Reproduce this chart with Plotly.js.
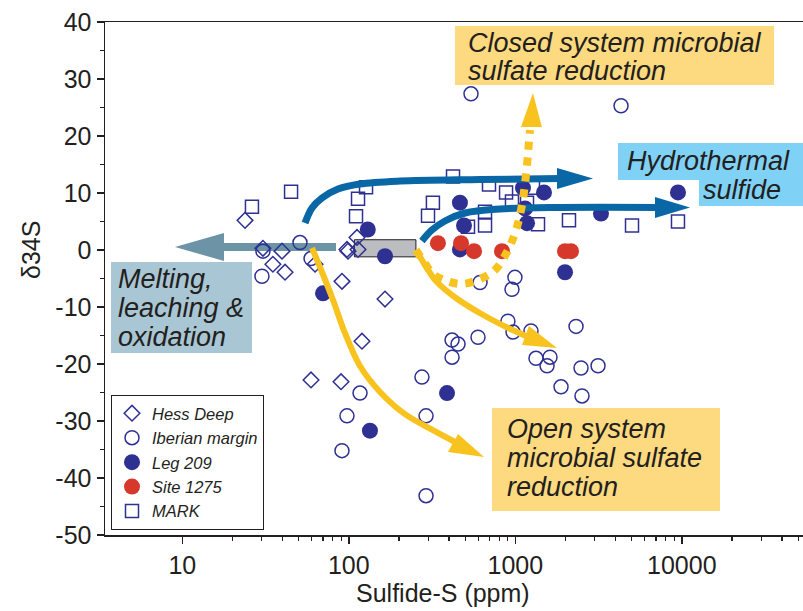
<!DOCTYPE html>
<html>
<head>
<meta charset="utf-8">
<script src="https://cdn.plot.ly/plotly-3.0.1.min.js"></script>
<style>
  html, body { margin: 0; padding: 0; background: #fff; }
  #chart { width: 803px; height: 611px; }
</style>
</head>
<body>
<div id="chart"></div>
<script>
// Sulfide-S content (ppm) and δ34S (‰) of sulfides, by locality
const hessDeepS     = [23.8, 30.5, 39.7, 35.0, 41.4, 62.7, 97.5, 91.0, 112, 98.9, 113.6, 165, 120, 59.3, 89.8];
const hessDeepD34S  = [5.2, 0.3, -0.2, -2.5, -3.9, -2.5, 0.1, -5.5, 2.2, -0.2, 0.1, -8.6, -16.0, -22.8, -23.1];

const iberianS      = [30.5, 30.1, 50.9, 59.3, 542, 4315, 614, 995, 955, 903, 969, 1242, 2316, 417, 453,
                       597, 417, 1331, 1616, 1551, 2481, 3139, 1882, 2515, 275, 116.8, 97.5, 291, 91, 291];
const iberianD34S   = [-0.2, -4.6, 1.3, -1.5, 27.4, 25.3, -5.7, -4.8, -6.9, -12.5, -14.4, -14.2, -13.4, -15.8, -16.5,
                       -15.3, -18.8, -19.0, -18.8, -20.3, -20.7, -20.3, -24.0, -25.6, -22.3, -25.1, -29.1, -29.1, -35.2, -43.1];

const leg209S       = [70, 130, 165, 465, 465, 492, 1112, 1487, 1144, 1176, 3271, 1989, 9485, 389, 134];
const leg209D34S    = [-7.6, 3.6, -1.1, 8.3, 0.1, 4.3, 10.9, 10.1, 7.3, 4.7, 6.4, -3.9, 10.1, -25.1, -31.7];

const site1275S     = [343, 472, 565, 832, 1989, 2160];
const site1275D34S  = [1.2, 1.2, -0.2, -0.2, -0.2, -0.2];

const markS         = [26.2, 45.0, 126.9, 113.6, 110.5, 422.6, 320, 299, 695, 880, 955, 658, 658, 520, 1176,
                       1277, 1369, 2101, 5023, 9485];
const markD34S      = [7.6, 10.2, 11.0, 9.0, 5.9, 12.9, 8.3, 6.0, 11.5, 10.1, 8.5, 6.7, 4.3, 4.1, 8.3,
                       10.9, 4.5, 5.2, 4.3, 5.0];

// Range of mantle sulfide (grey field)
const mantleS    = [108, 253];
const mantleD34S = [-1.2, 1.8];

// Axis ticks
const xTickVals = [10, 100, 1000, 10000];
const xTickText = ['10', '100', '1000', '10000'];
const yTickVals = [40, 30, 20, 10, 0, -10, -20, -30, -40, -50];
const yTickText = ['40', '30', '20', '10', '0', '-10', '-20', '-30', '-40', '-50'];

// Process arrows (ppm, ‰): shafts and heads
const hydroUpperX = [54.6, 60.1, 69.0, 86.1, 116.7, 203, 614, 1856];
const hydroUpperY = [4.74, 7.37, 9.12, 10.7, 11.58, 12.1, 12.37, 12.54];
const hydroUpperHeadX = [1780, 2929, 1780];
const hydroUpperHeadY = [14.39, 12.54, 10.70];

const hydroLowerX = [275, 316, 378, 499, 809, 1856, 7396];
const hydroLowerY = [1.58, 3.51, 5.09, 6.49, 7.19, 7.46, 7.46];
const hydroLowerHeadX = [6902, 11203, 6902];
const hydroLowerHeadY = [9.30, 7.46, 5.61];

const meltX = [83.8, 17.56];
const meltY = [0.53, 0.53];
const meltHeadX = [17.8, 9.04, 17.8];
const meltHeadY = [2.98, 0.53, -1.93];

const openLeftX = [60.1, 69.0, 80.4, 94.8, 116.7, 154, 217.5, 320, 434.5];
const openLeftY = [0.35, -3.86, -8.77, -14.56, -20.35, -24.9, -28.8, -31.6, -33.68];
const openLeftHeadX = [453, 649, 394];
const openLeftHeadY = [-32.28, -36.32, -35.44];

const openRightX = [253, 287, 334, 440, 658, 955, 1159];
const openRightY = [0, -2.63, -5.44, -8.42, -11.58, -14.0, -15.09];
const openRightHeadX = [1208, 1780, 1097];
const openRightHeadY = [-13.33, -17.19, -16.67];

const closedX = [253, 283, 320, 389, 479, 614, 755, 891.6, 1010, 1097, 1159, 1225];
const closedY = [0, -2.1, -4.2, -5.44, -5.96, -5.09, -3.51, -0.35, 3.51, 7.89, 13.16, 21.05];
const closedHeadX = [1082, 1277, 1444];
const closedHeadY = [21.58, 27.54, 21.58];

// ---- styling ----
const W = 803, H = 611;
const M = { l: 105, r: 0, t: 22, b: 76 };
const PW = W - M.l - M.r, PH = H - M.t - M.b;
const fx = v => (v - M.l) / PW;          // pixel column -> paper x
const fy = v => (H - M.b - v) / PH;      // pixel row -> paper y

const INK = '#231f20';
const NAVY = '#2e3192';
const RED = '#d7382c';
const BLUE = '#0a67a6';
const YELLOW = '#f9c31f';
const STEEL = '#6c93a6';
const FONT = 'Liberation Sans, Arial, Helvetica, sans-serif';

const pxPerDecade = 166.5;
const xLeft = 1 - (182.3 - M.l) / pxPerDecade;
const xRight = xLeft + PW / pxPerDecade;

function shaft(x, y, color, width, dash) {
  return { x, y, mode: 'lines', type: 'scatter', showlegend: false, hoverinfo: 'skip',
           line: { color, width, shape: 'spline', smoothing: 1, dash: dash || 'solid' } };
}
function head(x, y, color) {
  return { x, y, mode: 'lines', type: 'scatter', fill: 'toself', fillcolor: color,
           showlegend: false, hoverinfo: 'skip', line: { color, width: 0 } };
}

const traces = [
  shaft(meltX, meltY, STEEL, 8),
  head(meltHeadX, meltHeadY, STEEL),
  { name: 'Hess Deep', x: hessDeepS, y: hessDeepD34S, type: 'scatter', mode: 'markers',
    marker: { symbol: 'diamond-open', size: 12, color: NAVY, line: { width: 1.5, color: NAVY } } },
  { name: 'Iberian margin', x: iberianS, y: iberianD34S, type: 'scatter', mode: 'markers',
    marker: { symbol: 'circle-open', size: 14, color: NAVY, line: { width: 1.5, color: NAVY } } },
  { name: 'Leg 209', x: leg209S, y: leg209D34S, type: 'scatter', mode: 'markers',
    marker: { symbol: 'circle', size: 16, color: NAVY, line: { width: 0 } } },
  { name: 'Site 1275', x: site1275S, y: site1275D34S, type: 'scatter', mode: 'markers',
    marker: { symbol: 'circle', size: 16, color: RED, line: { width: 0 } } },
  { name: 'MARK', x: markS, y: markD34S, type: 'scatter', mode: 'markers',
    marker: { symbol: 'square-open', size: 13, color: NAVY, line: { width: 1.5, color: NAVY } } },
  shaft(hydroUpperX, hydroUpperY, BLUE, 7),
  head(hydroUpperHeadX, hydroUpperHeadY, BLUE),
  shaft(hydroLowerX, hydroLowerY, BLUE, 7),
  head(hydroLowerHeadX, hydroLowerHeadY, BLUE),
  shaft(openLeftX, openLeftY, YELLOW, 6),
  head(openLeftHeadX, openLeftHeadY, YELLOW),
  shaft(openRightX, openRightY, YELLOW, 6),
  head(openRightHeadX, openRightHeadY, YELLOW),
  shaft(closedX, closedY, YELLOW, 8, '8px,8px'),
  head(closedHeadX, closedHeadY, YELLOW)
];

// minor ticks on the log axis
const xMinor = [];
for (let dec = 10; dec <= 10000; dec *= 10) {
  for (let k = 2; k <= 9; k++) if (dec * k < 60000) xMinor.push(dec * k);
}
const yMinor = [35, 25, 15, 5, -5, -15, -25, -35, -45];

function box(x0, x1, y0, y1, color) {
  return { type: 'rect', xref: 'paper', yref: 'paper', layer: 'above',
           x0: fx(x0), x1: fx(x1), y0: fy(y1), y1: fy(y0),
           fillcolor: color, line: { width: 0 } };
}
function label(text, x, yMid) {
  return { text, xref: 'paper', yref: 'paper', x: fx(x), y: fy(yMid),
           xanchor: 'left', yanchor: 'middle', showarrow: false,
           font: { family: FONT, size: 27, color: INK, style: 'italic' } };
}

const layout = {
  width: W, height: H,
  margin: M,
  paper_bgcolor: '#fff',
  plot_bgcolor: 'rgba(0,0,0,0)',
  font: { family: FONT, color: INK },
  showlegend: true,
  legend: {
    x: fx(111), y: fy(395), xanchor: 'left', yanchor: 'top',
    bgcolor: '#fff', bordercolor: INK, borderwidth: 1,
    font: { family: FONT, size: 16.5, color: INK, style: 'italic' },
    itemwidth: 30, tracegroupgap: 0
  },
  xaxis: {
    type: 'log', range: [xLeft, xRight],
    tickmode: 'array', tickvals: xTickVals, ticktext: xTickText,
    ticks: 'outside', ticklen: 7, tickwidth: 1.5, tickcolor: INK,
    minor: { tickmode: 'array', tickvals: xMinor, ticks: 'outside', ticklen: 4, tickwidth: 1.2, tickcolor: INK, showgrid: false },
    showline: true, linecolor: INK, linewidth: 1.5, mirror: true,
    showgrid: false, zeroline: false,
    tickfont: { family: FONT, size: 25, color: INK }
  },
  yaxis: {
    range: [-50, 40],
    tickmode: 'array', tickvals: yTickVals, ticktext: yTickText,
    ticks: 'outside', ticklen: 7, tickwidth: 1.5, tickcolor: INK,
    minor: { tickmode: 'array', tickvals: yMinor, ticks: 'outside', ticklen: 4, tickwidth: 1.2, tickcolor: INK, showgrid: false },
    showline: true, linecolor: INK, linewidth: 1.5,
    showgrid: false, zeroline: false,
    tickfont: { family: FONT, size: 25, color: INK }
  },
  shapes: [
    { type: 'rect', xref: 'x', yref: 'y', layer: 'below',
      x0: mantleS[0], x1: mantleS[1], y0: mantleD34S[0], y1: mantleD34S[1],
      fillcolor: '#bcbdc0', line: { color: INK, width: 1 } },
    box(455, 774, 26, 85, '#fdd97f'),
    box(618, 803, 143, 180, '#7fd2f5'),
    box(699, 803, 179, 206, '#7fd2f5'),
    box(111, 252, 262, 353, '#a9c6d4'),
    box(492, 720, 408, 511, '#fdd97f')
  ],
  annotations: [
    // axis titles
    { text: 'Sulfide-S (ppm)', xref: 'paper', yref: 'paper', x: fx(442.5), y: fy(593),
      xanchor: 'center', yanchor: 'middle', showarrow: false,
      font: { family: FONT, size: 25, color: INK } },
    { text: 'δ34S', xref: 'paper', yref: 'paper', x: fx(31), y: fy(250), textangle: -90,
      xanchor: 'center', yanchor: 'middle', showarrow: false,
      font: { family: FONT, size: 25, color: INK } },
    // process labels
    label('Closed system microbial', 466, 42.5),
    label('sulfate reduction', 466, 71.5),
    label('Hydrothermal', 625, 161),
    label('sulfide', 701, 190),
    label('Melting,', 116, 279),
    label('leaching &amp;', 116, 308),
    label('oxidation', 116, 337),
    label('Open system', 505, 429),
    label('microbial sulfate', 505, 458),
    label('reduction', 505, 487)
  ]
};

Plotly.newPlot('chart', traces, layout, { displayModeBar: false, staticPlot: true });
</script>
</body>
</html>
